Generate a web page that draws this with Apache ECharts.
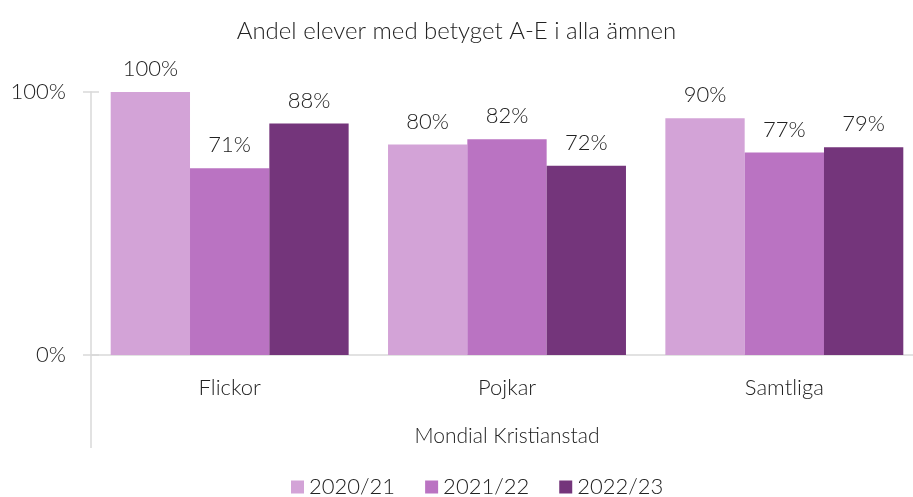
<!DOCTYPE html>
<html>
<head>
    <meta charset="utf-8">
    <title>Andel elever</title>
    <script src="https://cdn.jsdelivr.net/npm/echarts@6/dist/echarts.min.js"></script>
    <style>
        html, body { margin: 0; padding: 0; background: #fff; }
    </style>
</head>
<body>
    <div id="main" style="width: 913px;height:497px;"></div>
    <script type="text/javascript">
        var categories = ['Flickor', 'Pojkar', 'Samtliga'];
        var years = ['2020/21', '2021/22', '2022/23'];
        var values_2020 = [100, 80, 90];
        var values_2021 = [71, 82, 77];
        var values_2022 = [88, 72, 79];
        var colors = ['#D3A3D7', '#BA73C2', '#74357B'];
        var yTicks = [0, 100];

        var font = 'Lato';
        var textColor = '#222';

        var myChart = echarts.init(document.getElementById('main'));

        var seriesData = [values_2020, values_2021, values_2022];
        var series = [];
        for (var i = 0; i < years.length; i++) {
            series.push({
                name: years[i],
                type: 'bar',
                data: seriesData[i],
                barGap: '0%',
                barCategoryGap: '14.2%',
                itemStyle: { color: colors[i] },
                label: {
                    show: true,
                    position: 'top',
                    distance: 12,
                    formatter: '{c}%',
                    fontFamily: font,
                    fontWeight: 300,
                    fontSize: 22,
                    color: textColor
                }
            });
        }

        var option = {
            animation: false,
            title: {
                text: 'Andel elever med betyget A-E i alla ämnen',
                left: 'center',
                top: 14,
                textStyle: {
                    fontFamily: font,
                    fontWeight: 300,
                    fontSize: 24,
                    color: textColor
                }
            },
            legend: {
                data: years,
                top: 471,
                left: 286,
                itemWidth: 13,
                itemHeight: 13,
                itemGap: 30,
                icon: 'rect',
                textStyle: {
                    fontFamily: font,
                    fontWeight: 300,
                    fontSize: 22,
                    color: textColor
                }
            },
            grid: {
                left: 91,
                width: 832,
                top: 92,
                bottom: 142,
                containLabel: false,
                outerBoundsMode: 'none'
            },
            xAxis: {
                type: 'category',
                data: categories,
                name: 'Mondial Kristianstad',
                nameLocation: 'middle',
                nameGap: 71,
                nameTextStyle: {
                    fontFamily: font,
                    fontWeight: 300,
                    fontSize: 21,
                    color: textColor
                },
                axisLine: { lineStyle: { color: '#d9d9d9', width: 1.5 } },
                axisTick: { show: false },
                axisLabel: {
                    margin: 22,
                    fontFamily: font,
                    fontWeight: 300,
                    fontSize: 22,
                    color: textColor
                }
            },
            yAxis: [{
                type: 'value',
                min: yTicks[0],
                max: yTicks[1],
                interval: 100,
                axisLine: { show: true, lineStyle: { color: '#d9d9d9', width: 1.5 } },
                axisTick: { show: true, length: 8, lineStyle: { color: '#d9d9d9', width: 1.5 } },
                splitLine: { show: false },
                axisLabel: {
                    margin: 25,
                    formatter: '{value}%',
                    fontFamily: font,
                    fontWeight: 300,
                    fontSize: 22,
                    color: textColor
                }
            }, {
                type: 'value',
                position: 'left',
                min: yTicks[0],
                max: yTicks[1],
                interval: 100,
                axisLine: { show: false },
                axisTick: { show: true, inside: true, length: 8, lineStyle: { color: '#d9d9d9', width: 1.5 } },
                splitLine: { show: false },
                axisLabel: { show: false }
            }],
            graphic: [{
                type: 'line',
                shape: { x1: 91, y1: 355, x2: 91, y2: 448 },
                style: { stroke: '#d9d9d9', lineWidth: 1.5 }
            }],
            series: series
        };

        myChart.setOption(option);

        window.addEventListener("resize", function(){
            myChart.resize();
        })
    </script>
</body>
</html>
